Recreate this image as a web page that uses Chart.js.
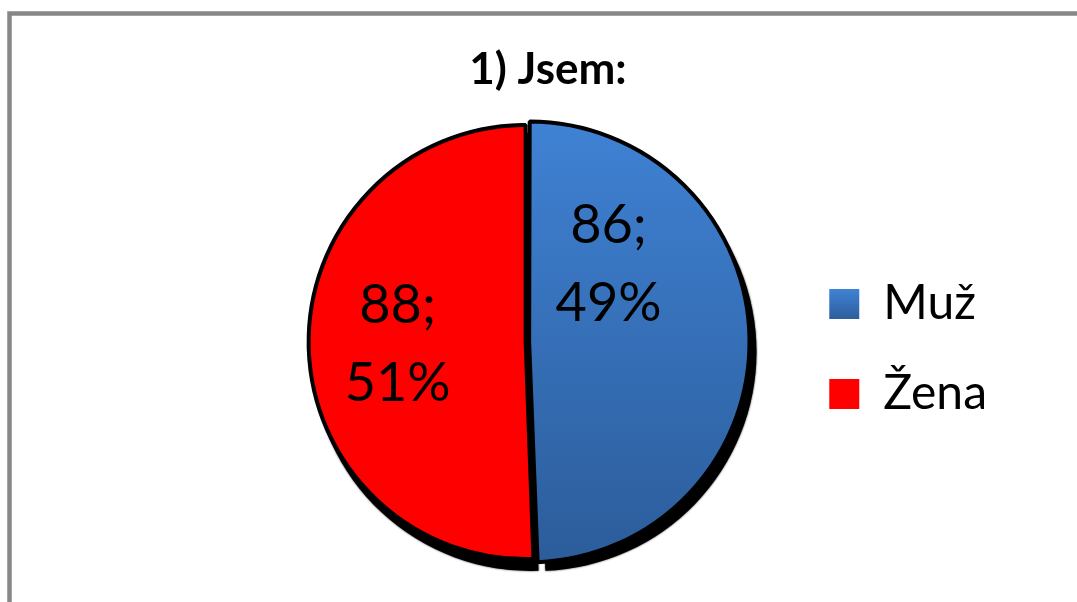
<!DOCTYPE html>
<html>
<head>
<meta charset="utf-8">
<script src="https://cdn.jsdelivr.net/npm/chart.js@4/dist/chart.umd.min.js"></script>
<style>
  html, body { margin: 0; padding: 0; background: #fff; }
  #chart { display: block; }
</style>
</head>
<body>
<canvas id="chart" width="1077" height="602"></canvas>
<script>
// data
const categories = ['Muž', 'Žena'];
const counts = [86, 88];
const chartTitle = '1) Jsem:';

// where the value labels sit inside each slice (fraction of slice angle, fraction of radius)
const labelAngleFrac = [0.25, 0.5];
const labelRadiusFrac = [0.5, 0.59];

// posun výseče stejně jako to dělá ArcElement.draw
function arcShift(arc) {
    const p = arc.getProps(['startAngle', 'endAngle', 'circumference'], true);
    const o = (arc.options.offset || 0) / 4;
    const fix = 1 - Math.sin(Math.min(Math.PI, p.circumference || 0));
    const d = o + o * fix;
    const half = (p.startAngle + p.endAngle) / 2;
    return { dx: Math.cos(half) * d, dy: Math.sin(half) * d };
}

// šedý rámeček + nadpis
const framePlugin = {
    id: 'frame',
    beforeDraw(chart) {
        const ctx = chart.ctx;
        ctx.save();
        ctx.fillStyle = '#fff';
        ctx.fillRect(0, 0, chart.width, chart.height);
        ctx.strokeStyle = '#878787';
        ctx.lineWidth = 4.5;
        ctx.strokeRect(9.5, 13.5, chart.width + 50, chart.height + 50);
        ctx.fillStyle = '#000';
        ctx.font = 'bold 44px Lato';
        ctx.textAlign = 'center';
        ctx.textBaseline = 'middle';
        ctx.fillText(chartTitle, 548, 70);
        ctx.restore();
    }
};

// stín pod výsečemi - kreslí se jen jednou, pod vším
const shadowPlugin = {
    id: 'pieShadow',
    beforeDatasetsDraw(chart) {
        const ctx = chart.ctx;
        const meta = chart.getDatasetMeta(0);
        ctx.save();
        ctx.fillStyle = '#000';
        ctx.shadowColor = 'rgba(0,0,0,0.9)';
        ctx.shadowBlur = 2;
        meta.data.forEach(arc => {
            const p = arc.getProps(['x', 'y', 'startAngle', 'endAngle', 'outerRadius'], true);
            const s = arcShift(arc);
            const x = p.x + s.dx + 5, y = p.y + s.dy + 10;
            ctx.beginPath();
            ctx.moveTo(x, y);
            ctx.arc(x, y, p.outerRadius + 2, p.startAngle, p.endAngle);
            ctx.closePath();
            ctx.fill();
        });
        ctx.restore();
    }
};

// popisky "86;" / "49%"
const valueLabels = {
    id: 'valueLabels',
    afterDatasetsDraw(chart) {
        const ctx = chart.ctx;
        const meta = chart.getDatasetMeta(0);
        const total = counts.reduce((a, b) => a + b, 0);
        ctx.save();
        ctx.fillStyle = '#000';
        ctx.font = '54px Lato';
        ctx.textAlign = 'center';
        ctx.textBaseline = 'middle';
        meta.data.forEach((arc, i) => {
            const p = arc.getProps(['x', 'y', 'startAngle', 'endAngle', 'outerRadius'], true);
            const s = arcShift(arc);
            const a = p.startAngle + (p.endAngle - p.startAngle) * labelAngleFrac[i];
            const r = p.outerRadius * labelRadiusFrac[i];
            const cx = p.x + s.dx + Math.cos(a) * r;
            const cy = p.y + s.dy + Math.sin(a) * r;
            const pct = Math.round(counts[i] / total * 100);
            ctx.fillText(counts[i] + ';', cx, cy - 39);
            ctx.fillText(pct + '%', cx, cy + 39);
        });
        ctx.restore();
    }
};

function sliceFill(context) {
    if (context.dataIndex !== 0) return '#ff0000';
    const chart = context.chart;
    const area = chart.chartArea;
    if (!area) return '#3a77c2';
    const cy = (area.top + area.bottom) / 2;
    const g = chart.ctx.createLinearGradient(0, cy - 217, 0, cy + 217);
    g.addColorStop(0, '#3f81d3');
    g.addColorStop(1, '#2c5d9b');
    return g;
}

const pieLegendLabels = Chart.overrides.pie.plugins.legend.labels.generateLabels;

const ctx = document.getElementById('chart').getContext('2d');
new Chart(ctx, {
    type: 'pie',
    data: {
        labels: categories,
        datasets: [{
            data: counts,
            backgroundColor: sliceFill,
            borderColor: '#000',
            borderWidth: 4,
            offset: [14, 0]
        }]
    },
    options: {
        responsive: false,
        animation: false,
        radius: 217,
        layout: { padding: { left: 264, right: 80, top: 110, bottom: 28 } },
        plugins: {
            title: { display: false },
            legend: {
                position: 'right',
                title: { display: true, text: '', font: { size: 10 }, padding: 1 },
                labels: {
                    color: '#000',
                    font: { family: 'Lato', size: 48 },
                    boxWidth: 30,
                    boxHeight: 30,
                    padding: 42,
                    generateLabels(chart) {
                        const items = pieLegendLabels(chart);
                        items.forEach((it, i) => {
                            it.lineWidth = 0;
                            it.strokeStyle = 'rgba(0,0,0,0)';
                            if (i === 0) {
                                const g = chart.ctx.createLinearGradient(0, 290, 0, 320);
                                g.addColorStop(0, '#3f81d3');
                                g.addColorStop(1, '#2c5d9b');
                                it.fillStyle = g;
                            }
                        });
                        return items;
                    }
                }
            },
            tooltip: { enabled: false }
        }
    },
    plugins: [framePlugin, shadowPlugin, valueLabels]
});
</script>
</body>
</html>
